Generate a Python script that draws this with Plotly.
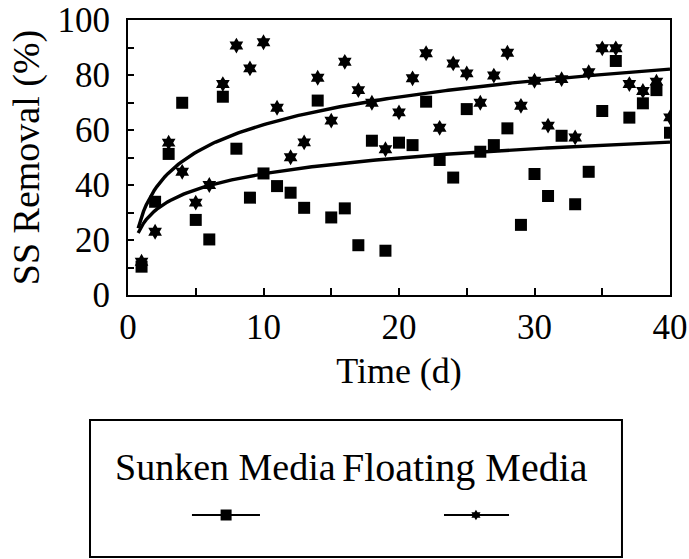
import numpy as np
import plotly.graph_objects as go

days = list(range(1, 41))
sunken = [10.3, 33.9, 51.3, 69.9, 27.3, 20.2, 72.1, 53.2, 35.4, 44.2,
          39.6, 37.2, 31.7, 70.7, 28.2, 31.5, 18.1, 56.1, 16.1, 55.4,
          54.5, 70.3, 49.1, 42.7, 67.6, 52.1, 54.5, 60.6, 25.5, 44.0,
          36.0, 57.9, 33.0, 44.8, 66.9, 85.1, 64.5, 69.7, 74.5, 59.0]
floating = [12.1, 23.0, 55.4, 44.8, 33.6, 40.0, 76.7, 90.7, 82.4, 91.9,
            68.1, 50.1, 55.5, 79.0, 63.4, 84.8, 74.5, 69.9, 53.0, 66.4,
            78.8, 87.9, 60.8, 84.2, 80.6, 69.9, 79.8, 88.1, 68.8, 77.9,
            61.6, 78.5, 57.3, 81.0, 89.7, 89.7, 76.7, 74.2, 77.6, 64.6]
series_names = ["Sunken Media", "Floating Media"]
x_tickvals = list(range(0, 41, 5))
x_ticktext = ["0", "", "10", "", "20", "", "30", "", "40"]
y_tickvals = list(range(0, 101, 10))
y_ticktext = ["0", "", "20", "", "40", "", "60", "", "80", "", "100"]

FONT = "Liberation Serif, Times New Roman, serif"

# logarithmic trend lines fitted to the data
xd = np.array(days, dtype=float)
xs = np.linspace(0.75, 40, 200)
def logfit(vals):
    b, a = np.polyfit(np.log(xd), np.array(vals), 1)
    return a + b * np.log(xs)

fig = go.Figure()
fig.add_trace(go.Scatter(x=xs, y=logfit(floating), mode="lines",
                         line=dict(color="black", width=3.4), showlegend=False))
fig.add_trace(go.Scatter(x=xs, y=logfit(sunken), mode="lines",
                         line=dict(color="black", width=3.4), showlegend=False))
fig.add_trace(go.Scatter(x=days, y=floating, mode="markers", name=series_names[1],
                         marker=dict(symbol="hexagram", size=12, color="black",
                                     line=dict(width=0)), showlegend=False))
fig.add_trace(go.Scatter(x=days, y=sunken, mode="markers", name=series_names[0],
                         marker=dict(symbol="square", size=12, color="black",
                                     line=dict(width=0)), showlegend=False))

# custom legend samples (text above line+marker)
fig.add_trace(go.Scatter(x=[0.118, 0.181, 0.2435], y=[0.314, 0.314, 0.314],
                         xaxis="x2", yaxis="y2", mode="lines",
                         line=dict(color="black", width=2), showlegend=False))
fig.add_trace(go.Scatter(x=[0.181], y=[0.314], xaxis="x2", yaxis="y2", mode="markers",
                         marker=dict(symbol="square", size=11, color="black"),
                         showlegend=False))
fig.add_trace(go.Scatter(x=[0.583, 0.642, 0.703], y=[0.314, 0.314, 0.314],
                         xaxis="x2", yaxis="y2", mode="lines",
                         line=dict(color="black", width=2), showlegend=False))
fig.add_trace(go.Scatter(x=[0.642], y=[0.314], xaxis="x2", yaxis="y2", mode="markers",
                         marker=dict(symbol="hexagram", size=8, color="black"),
                         showlegend=False))

axis_font = dict(family=FONT, size=35, color="black")
fig.update_layout(
    width=689, height=559,
    margin=dict(l=128, r=19, t=20, b=0, autoexpand=False),
    paper_bgcolor="white", plot_bgcolor="white",
    font=dict(family=FONT, color="black"),
    xaxis=dict(range=[0, 40], tickvals=x_tickvals, ticktext=x_ticktext,
               ticks="inside", ticklen=7, tickwidth=1.5, tickcolor="black",
               showline=True, linecolor="black", linewidth=2, mirror=True,
               showgrid=False, zeroline=False, tickfont=axis_font,
               ticklabelstandoff=0, automargin=False, ticklabeloverflow="allow",
               title=dict(text="Time (d)", font=dict(family=FONT, size=36), standoff=12),
               anchor="y"),
    yaxis=dict(range=[0, 100], domain=[0.4898, 1], tickvals=y_tickvals, ticktext=y_ticktext,
               ticks="inside", ticklen=6, tickwidth=1.5, tickcolor="black",
               showline=True, linecolor="black", linewidth=2, mirror=True,
               showgrid=False, zeroline=False, tickfont=axis_font,
               ticklabelstandoff=9, automargin=False, ticklabeloverflow="allow",
               title=dict(text="SS Removal (%)", font=dict(family=FONT, size=38), standoff=6),
               anchor="x"),
    xaxis2=dict(domain=[0, 1], range=[0, 1], visible=False, anchor="y2"),
    yaxis2=dict(domain=[0, 0.26], range=[0, 1], visible=False, anchor="x2"),
    shapes=[dict(type="rect", xref="paper", yref="paper",
                 x0=-0.0701, x1=0.9114, y0=0.0037, y1=0.2579,
                 line=dict(color="black", width=2), fillcolor="rgba(0,0,0,0)")],
    annotations=[
        dict(text=series_names[0], xref="paper", yref="paper", x=0.179, y=0.170,
             showarrow=False, font=dict(family=FONT, size=38, color="black"),
             xanchor="center", yanchor="middle"),
        dict(text=series_names[1], xref="paper", yref="paper", x=0.622, y=0.170,
             showarrow=False, font=dict(family=FONT, size=40, color="black"),
             xanchor="center", yanchor="middle"),
    ],
)

# remove the default 8px page margin so the figure fills the window exactly
fig.write_html("out.html", config={"displayModeBar": False},
               post_script="document.body.style.margin='0';document.body.style.overflow='hidden';")
